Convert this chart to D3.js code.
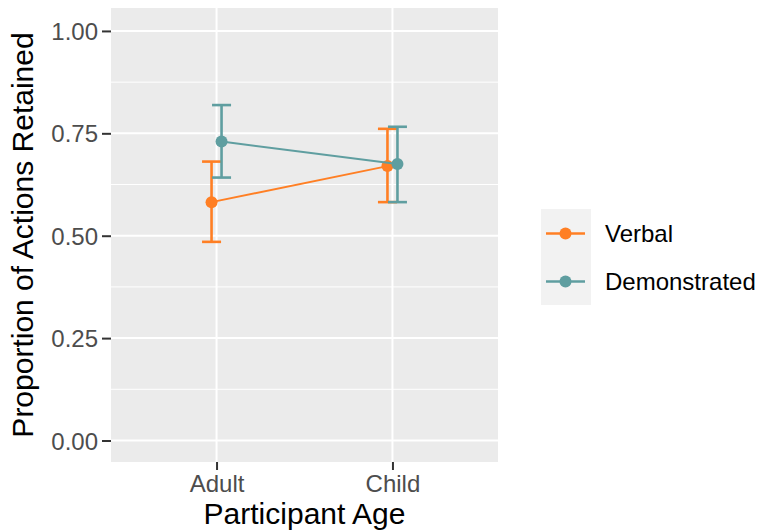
<!DOCTYPE html>
<html>
<head>
<meta charset="utf-8">
<script src="https://cdn.jsdelivr.net/npm/d3@7"></script>
<style>
  body { margin: 0; background: #fff; }
  text { font-family: "Liberation Sans", Arial, sans-serif; }
</style>
</head>
<body>
<svg id="chart" width="761" height="531"></svg>
<script>
// data
var ages = ["Adult", "Child"];
var conditions = ["Verbal", "Demonstrated"];
var colors = ["#FF7F24", "#5F9EA0"];
var verbalMean = [0.582, 0.670];
var verbalLow = [0.485, 0.582];
var verbalHigh = [0.681, 0.761];
var demoMean = [0.730, 0.675];
var demoLow = [0.642, 0.582];
var demoHigh = [0.819, 0.766];
var yTicks = [0, 0.25, 0.5, 0.75, 1];
var yMinor = [0.125, 0.375, 0.625, 0.875];

var series = [
	{ name: conditions[0], color: colors[0], dodge: -1, mean: verbalMean, low: verbalLow, high: verbalHigh },
	{ name: conditions[1], color: colors[1], dodge: 1, mean: demoMean, low: demoLow, high: demoHigh }
];

var svg = d3.select("#chart");
var panel = { left: 111, right: 498, top: 8, bottom: 462 };

var x = d3.scalePoint().domain(ages).range([panel.left, panel.right]).padding(0.6);
var y = d3.scaleLinear().domain([-0.0525, 1.056]).range([panel.bottom, panel.top]);
var dodgePx = 5;

// panel background
svg.append("rect")
	.attr("x", panel.left).attr("y", panel.top)
	.attr("width", panel.right - panel.left).attr("height", panel.bottom - panel.top)
	.attr("fill", "#EBEBEB");

// grid
svg.selectAll(".minor").data(yMinor).enter().append("line")
	.attr("x1", panel.left).attr("x2", panel.right)
	.attr("y1", function(d) { return y(d); }).attr("y2", function(d) { return y(d); })
	.attr("stroke", "#fff").attr("stroke-width", 1);
svg.selectAll(".major").data(yTicks).enter().append("line")
	.attr("x1", panel.left).attr("x2", panel.right)
	.attr("y1", function(d) { return y(d); }).attr("y2", function(d) { return y(d); })
	.attr("stroke", "#fff").attr("stroke-width", 2);
svg.selectAll(".vmajor").data(ages).enter().append("line")
	.attr("y1", panel.top).attr("y2", panel.bottom)
	.attr("x1", function(d) { return x(d); }).attr("x2", function(d) { return x(d); })
	.attr("stroke", "#fff").attr("stroke-width", 2);

// axes
var yAxis = svg.append("g")
	.attr("transform", "translate(" + panel.left + ",0)")
	.call(d3.axisLeft(y).tickValues(yTicks).tickFormat(d3.format(".2f")).tickSize(9).tickPadding(4));
var xAxis = svg.append("g")
	.attr("transform", "translate(0," + panel.bottom + ")")
	.call(d3.axisBottom(x).tickSize(8).tickPadding(5));
[yAxis, xAxis].forEach(function(ax) {
	ax.select(".domain").remove();
	ax.selectAll(".tick line").attr("stroke", "#333").attr("stroke-width", 2);
	ax.selectAll(".tick text").attr("fill", "#4D4D4D").style("font-size", "24px")
		.style("font-family", "'Liberation Sans', Arial, sans-serif");
});
yAxis.selectAll(".tick text").attr("dy", "0.36em");

// titles
svg.append("text")
	.attr("x", (panel.left + panel.right) / 2).attr("y", 524)
	.attr("text-anchor", "middle").style("font-size", "30px").attr("fill", "#000")
	.text("Participant Age");
svg.append("text")
	.attr("transform", "translate(33," + (panel.top + panel.bottom) / 2 + ") rotate(-90)")
	.attr("text-anchor", "middle").style("font-size", "30px").attr("fill", "#000")
	.text("Proportion of Actions Retained");

// series
var line = d3.line();
series.forEach(function(s) {
	var pts = ages.map(function(a, i) {
		return [x(a) + s.dodge * dodgePx, y(s.mean[i])];
	});
	svg.append("path")
		.attr("d", line(pts))
		.attr("fill", "none").attr("stroke", s.color).attr("stroke-width", 1.9);

	ages.forEach(function(a, i) {
		var cx = x(a) + s.dodge * dodgePx;
		var g = svg.append("g").attr("stroke", s.color).attr("stroke-width", 2.6);
		g.append("line").attr("x1", cx).attr("x2", cx)
			.attr("y1", y(s.low[i])).attr("y2", y(s.high[i]));
		g.append("line").attr("x1", cx - 9.5).attr("x2", cx + 9.5)
			.attr("y1", y(s.low[i])).attr("y2", y(s.low[i]));
		g.append("line").attr("x1", cx - 9.5).attr("x2", cx + 9.5)
			.attr("y1", y(s.high[i])).attr("y2", y(s.high[i]));
	});

	svg.selectAll(null).data(pts).enter().append("circle")
		.attr("cx", function(d) { return d[0]; })
		.attr("cy", function(d) { return d[1]; })
		.attr("r", 6).attr("fill", s.color);
});

// legend
var legend = svg.append("g").attr("transform", "translate(541,209)");
series.forEach(function(s, i) {
	var ky = i * 48;
	legend.append("rect")
		.attr("x", 0).attr("y", ky).attr("width", 50).attr("height", 48)
		.attr("fill", "#F2F2F2");
	legend.append("line")
		.attr("x1", 5).attr("x2", 44).attr("y1", ky + 24.5).attr("y2", ky + 24.5)
		.attr("stroke", s.color).attr("stroke-width", 2.6);
	legend.append("circle")
		.attr("cx", 24.5).attr("cy", ky + 24.5).attr("r", 6).attr("fill", s.color);
	legend.append("text")
		.attr("x", 64).attr("y", ky + 24.5).attr("dy", "0.36em")
		.style("font-size", "24px").attr("fill", "#000")
		.text(s.name);
});
</script>
</body>
</html>
